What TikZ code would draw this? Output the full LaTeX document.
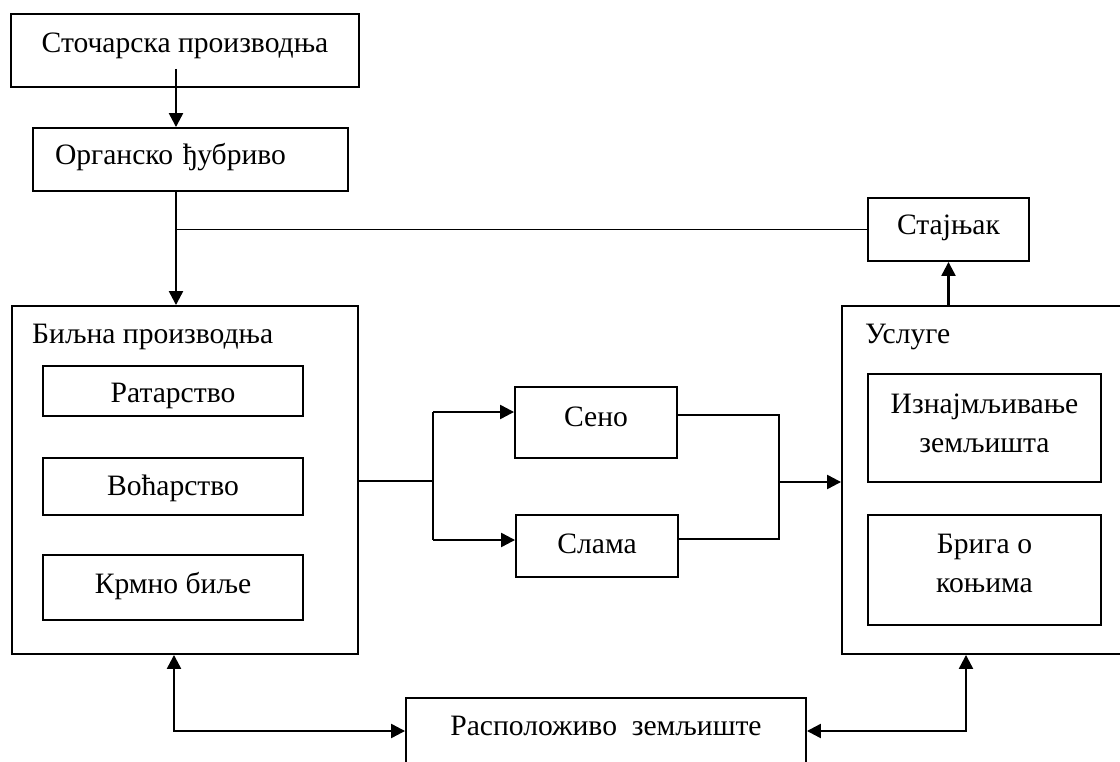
\documentclass[tikz,border=0pt]{standalone}
\usepackage{fontspec}
\setmainfont{Liberation Serif}
\usetikzlibrary{arrows.meta}
\begin{document}
\begin{tikzpicture}[x=1pt,y=-1pt,
  box/.style={draw, line width=1.9pt, inner sep=0pt, align=center},
  tx/.style={text height=20pt, text depth=#1},
  conn/.style={line width=1.4pt},
  arr/.style={line width=2.3pt, -{Triangle[length=14pt,width=14pt]}},
  arrb/.style={line width=2.3pt, {Triangle[length=14pt,width=14pt]}-{Triangle[length=14pt,width=14pt]}},
  ttl/.style={inner sep=0pt, anchor=base west},
  font=\fontsize{29.6}{39}\selectfont]
\useasboundingbox (0,0) rectangle (1120,762);
\clip (0,0) rectangle (1120,762);

% boxes
\node[box, tx=15pt, minimum width=348, minimum height=73] (stoc) at (185,50.5) {Сточарска производња};
\node[box, tx=9pt, minimum width=315, minimum height=63, text width=271, align=left] (org) at (190.5,159.5) {Органско ђубриво};
\node[box, tx=9pt, minimum width=161, minimum height=63] (staj) at (948.5,229.5) {Стајњак};

\node[box, minimum width=346, minimum height=348] (biljna) at (185,480) {};
\node[ttl] (biljnat) at (32,343) {Биљна производња};
\node[box, text height=25pt, text depth=3pt, minimum width=260, minimum height=50] (rat) at (173,391) {Ратарство};
\node[box, tx=3pt, minimum width=260, minimum height=57] (voc) at (173,486.5) {Воћарство};
\node[box, tx=9pt, minimum width=260, minimum height=65] (krm) at (173,587.5) {Крмно биље};

\node[box, tx=13pt, minimum width=162, minimum height=71] (seno) at (596,422.5) {Сено};
\node[box, tx=6pt, minimum width=162, minimum height=62] (slama) at (597,546) {Слама};

\node[box, minimum width=288, minimum height=348] (usl) at (986,480) {};
\node[ttl] (uslt) at (865,343) {Услуге};
\node[box, text height=59pt, text depth=11pt, minimum width=233, minimum height=108] (iznaj) at (984.5,428) {Изнајмљивање\\земљишта};
\node[box, text height=59pt, text depth=15pt, minimum width=233, minimum height=110] (briga) at (984.5,570) {Брига о\\коњима};

\node[box, minimum width=400, minimum height=86, anchor=north] (land) at (606,697) {};
\node[inner sep=0pt, anchor=base] (landt) at (606,735) {Расположиво\ \ земљиште};

% connectors
\coordinate (s1) at (176,69);
\draw[arr] (s1) -- (s1 |- org.north);
\draw[arr] (org.south -| s1) -- (biljna.north -| s1);
\draw[conn] (s1 |- staj.west) -- (staj.west);
\draw[arr] (usl.north -| staj.south) -- (staj.south);

\coordinate (b1) at (433,481);
\coordinate (senoin) at ([yshift=10.5pt]seno.west);
\coordinate (slamain) at ([yshift=6pt]slama.west);
\draw[conn] (biljna.east |- b1) -- (b1);
\draw[line width=2.3pt] (b1 |- senoin) -- (b1 |- slamain);
\draw[arr] (b1 |- senoin) -- (senoin);
\draw[arr] (b1 |- slamain) -- (slamain);

\coordinate (m) at (779,482);
\coordinate (senoout) at ([yshift=7.5pt]seno.east);
\coordinate (slamaout) at ([yshift=7pt]slama.east);
\draw[conn] (senoout) -| (m);
\draw[conn] (slamaout) -| (m);
\draw[arr] (m) -- (m -| usl.west);

\coordinate (lc) at (174,731);
\coordinate (rc) at (966,731);
\draw[arrb] (lc |- biljna.south) -- (lc) -- (lc -| land.west);
\draw[arrb] (rc |- usl.south) -- (rc) -- (rc -| land.east);
\end{tikzpicture}
\end{document}
